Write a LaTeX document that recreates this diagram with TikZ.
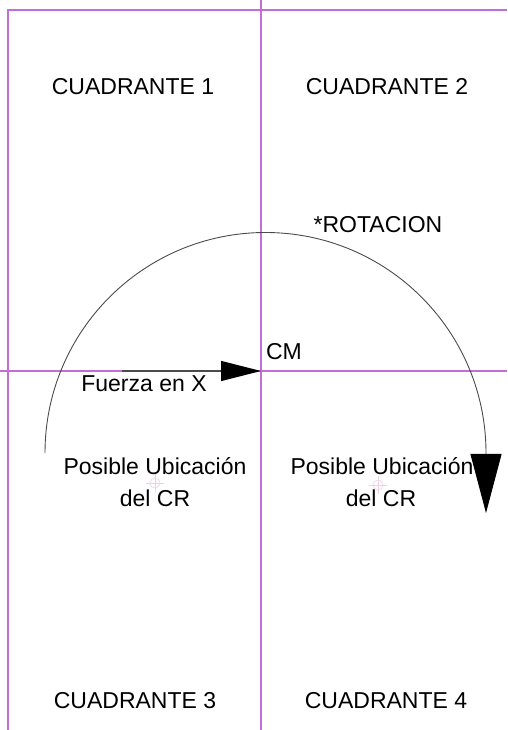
\documentclass[tikz,border=0pt]{standalone}
\usepackage{fontspec}
\setmainfont{Liberation Sans}
\usetikzlibrary{arrows.meta}
\definecolor{gridline}{RGB}{195,110,215}
\definecolor{arcgray}{RGB}{75,75,75}
\definecolor{crossmark}{RGB}{238,208,232}
\def \rr{220.5}

\begin{document}
\begin{tikzpicture}[x=1pt, y=1pt,
    txt/.style={font=\fontsize{23}{27}\selectfont, anchor=base, inner sep=0pt},
    gridln/.style={draw=gridline, line width=1.3pt},
    crosshair/.style={draw=crossmark, line width=0.6pt}]
  \useasboundingbox (0,0) rectangle (507,730);
  % quadrant lines
  \coordinate (TL) at (8,720);
  \coordinate (TR) at (507,720);
  \coordinate (BL) at (8,0);
  \coordinate (VT) at (261,730);
  \coordinate (VB) at (261,0);
  \coordinate (HL) at (0,359);
  \coordinate (HR) at (507,359);
  \coordinate (O) at (261,359);
  \draw[gridln] (BL) -- (TL) -- (TR);
  \draw[gridln] (VT) -- (VB);
  \draw[gridln] (HL) -- (HR);

  % labels
  \node[txt] (Q1) at (133,635) {CUADRANTE 1};
  \node[txt] (Q2) at (387,635) {CUADRANTE 2};
  \node[txt] (Q3) at (135,21) {CUADRANTE 3};
  \node[txt] (Q4) at (386,21) {CUADRANTE 4};
  \node[txt] (ROT) at (378,497) {*ROTACION};
  \node[txt] (CM) at (284,370) {CM};
  \node[txt] (FX) at (144,338) {Fuerza en X};
  \node[txt] (P1a) at (155,255) {Posible Ubicación};
  \node[txt] (P1b) at (155,223) {del CR};
  \node[txt] (P2a) at (382,255) {Posible Ubicación};
  \node[txt] (P2b) at (381,223) {del CR};

  % CR marks
  \coordinate (CR1) at (155,247);
  \coordinate (CR2) at (378,245);
  \foreach \c in {CR1, CR2} {
    \draw[crosshair] (\c) circle[radius=5];
    \draw[crosshair] ([xshift=-9]\c) -- ([xshift=9]\c);
    \draw[crosshair] ([yshift=-9]\c) -- ([yshift=9]\c);
  }

  % force in X
  \coordinate (F0) at (122,359);
  \draw[arcgray, line width=1.3pt, -{Triangle[length=40pt, width=20pt, color=black]}] (F0) -- (O);

  % rotation
  \coordinate (A0) at (45,277);
  \coordinate (AE) at (486,217);
  \draw[arcgray, line width=0.9pt, -{Triangle[length=59pt, width=31pt, color=black]}]
    (A0) arc[start angle=180, end angle=0, radius=\rr] -- (AE);
\end{tikzpicture}
\end{document}
